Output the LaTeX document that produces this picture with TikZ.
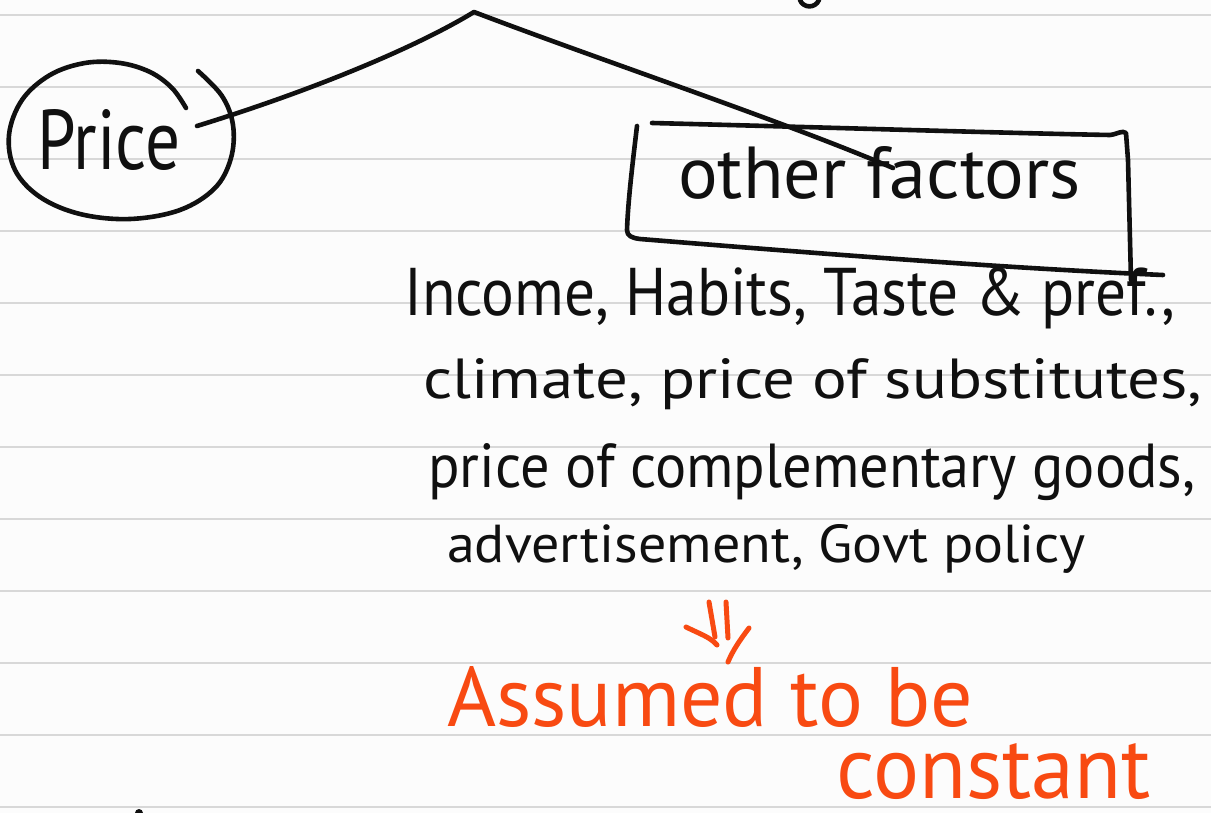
\documentclass[tikz,border=0pt]{standalone}
\usepackage{fontspec}
\setmainfont{PT Sans}
\usepackage{graphicx}
\definecolor{paper}{HTML}{FCFCFC}
\definecolor{ruling}{HTML}{D8D8D8}
\definecolor{ink}{HTML}{101010}
\definecolor{marker}{HTML}{F84A12}
% stretch a handwritten line to a given width and height (in pt)
\newcommand{\handfit}[3]{\resizebox{#1pt}{#2pt}{#3}}
\tikzset{
  pen/.style={draw=ink, line width=4.6pt, line cap=round, line join=round},
  hl/.style={draw=marker, line width=5pt, line cap=round, line join=round},
  handtext/.style={inner sep=0pt, anchor=base west, text=ink},
  hltext/.style={inner sep=0pt, anchor=base west, text=marker},
}
\begin{document}
\begin{tikzpicture}[x=1pt, y=-1pt]
  % ruled notebook page
  \fill[paper] (0,0) rectangle (1211,813);
  \useasboundingbox (0,0) rectangle (1211,813);
  \foreach \yy in {15,87,...,807}
    \draw[ruling, line width=2.4pt] (0,\yy) -- (1211,\yy);

  % left branch: Price, circled
  \node[handtext] (price) at (37,170) {\handfit{143}{60}{Price}};
  \draw[pen] plot[smooth, tension=0.6] coordinates {
    (186,108) (172,88) (150,72) (120,63) (85,63) (50,75) (22,100) (9,135)
    (15,170) (40,197) (80,214) (130,219) (180,210) (215,188) (231,158)
    (233,125) (222,96) (198,71)};

  % right branch: other factors, boxed
  \node[handtext] (other) at (678,199) {\handfit{402}{52}{other factors}};
  \draw[pen] (652,123) .. controls (850,128) and (1000,133) .. (1110,135)
    .. controls (1118,134) and (1122,130) .. (1126,133) -- (1128,160) -- (1131,280);
  \draw[pen] (637,126) .. controls (633,160) and (628,200) .. (627,230)
    .. controls (627,236) and (632,238) .. (640,239)
    .. controls (800,252) and (1000,268) .. (1163,275);

  % the two branches meeting at the top
  \coordinate (apex) at (474,12);
  \coordinate (priceTip) at (197,126);
  \coordinate (factorTip) at (893,168);
  \draw[pen] (priceTip) .. controls (320,88) and (420,45) .. (apex)
    .. controls (600,60) and (780,120) .. (factorTip);

  % list of the other factors
  \node[handtext] (l1) at (404,316) {\handfit{771}{48}{Income, Habits, Taste \& pref.,}};
  \node[handtext] (l2) at (423,398) {\handfit{779}{40}{climate, price of substitutes,}};
  \node[handtext] (l3) at (428,487) {\handfit{767}{44}{price of complementary goods,}};
  \node[handtext] (l4) at (447,562) {\handfit{638}{38}{advertisement, Govt policy}};

  % conclusion in marker
  \draw[hl] (709,602) -- (715,637);
  \draw[hl] (726,602) -- (728,638);
  \draw[hl] (686,627) .. controls (700,634) and (710,637) .. (717,645);
  \draw[hl] (749,628) .. controls (740,640) and (733,650) .. (728,662);
  \node[hltext] (assumed) at (447,726) {\handfit{526}{60}{Assumed to be}};
  \node[hltext] (constant) at (836,798) {\handfit{314}{55}{constant}};

  % stray pen marks at the page edges
  \draw[pen] (800,0) .. controls (803,8) and (815,9) .. (819,0);
  \fill[ink] (139,813) circle (4);
\end{tikzpicture}
\end{document}
